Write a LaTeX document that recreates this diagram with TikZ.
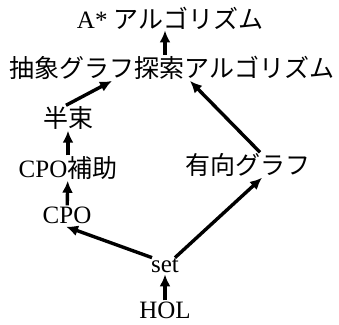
\documentclass[tikz,border=0pt]{standalone}
\usepackage{fontspec}
\setmainfont{Liberation Serif}
\newfontfamily\jp{Noto Sans CJK JP}
\usetikzlibrary{arrows.meta}
\tikzstyle{term}=[inner sep=1pt,font=\fontsize{25}{27}\selectfont]
\tikzstyle{dep}=[-{Latex[length=12pt,width=11pt]},line width=3.4pt]

\begin{document}
\begin{tikzpicture}[x=1pt,y=1pt]
  \useasboundingbox (0,0) rectangle (339,324);

  \node[term] (astar) at (170,306) {A* {\jp アルゴリズム}};
  \node[term] (abs) at (172,256) {\jp 抽象グラフ探索アルゴリズム};
  \node[term] (semi) at (68,206) {\jp 半束};
  \node[term] (cpoaux) at (68,156) {CPO{\jp 補助}};
  \node[term] (digraph) at (248,159) {\jp 有向グラフ};
  \node[term] (cpo) at (67,109) {CPO};
  \node[term] (set) at (165,58) {set};
  \node[term] (hol) at (165,14) {HOL};

  \draw[dep] ([xshift=-7pt]abs.north) -- ([xshift=-7pt]abs.north |- astar.south);
  \draw[dep] ([xshift=-2pt]semi.north) -- ([xshift=-60pt]abs.south);
  \draw[dep] ([xshift=12pt]digraph.north) -- ([xshift=18pt]abs.south);
  \draw[dep] (cpoaux) -- (semi);
  \draw[dep] (cpo) -- (cpoaux);
  \draw[dep] ([xshift=-13pt]set.north) -- ([xshift=-1pt,yshift=-2pt]cpo.south);
  \draw[dep] ([xshift=10pt]set.north) -- ([xshift=14pt]digraph.south);
  \draw[dep] (hol) -- (set);

\end{tikzpicture}
\end{document}
